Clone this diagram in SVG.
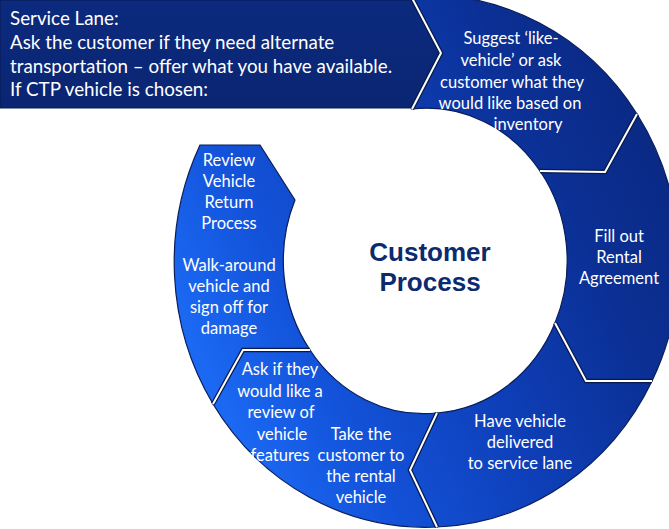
<svg xmlns="http://www.w3.org/2000/svg" width="669" height="529" viewBox="0 0 669 529">
<defs>
<linearGradient id="ring" gradientUnits="userSpaceOnUse" x1="650" y1="120" x2="190" y2="330">
<stop offset="0" stop-color="#0a2984"/>
<stop offset="0.2" stop-color="#0b2f93"/>
<stop offset="0.5" stop-color="#0e3fb8"/>
<stop offset="0.8" stop-color="#1353da"/>
<stop offset="1" stop-color="#1b68f2"/>
</linearGradient>
<linearGradient id="banner" x1="0" y1="0" x2="0" y2="1">
<stop offset="0" stop-color="#0c2a7e"/>
<stop offset="1" stop-color="#0a2572"/>
</linearGradient>
</defs>
<style>
.seg{fill:url(#ring);stroke:#081d5a;stroke-width:1.2}
.sepd{fill:none;stroke:#071a50;stroke-width:4.5;stroke-linejoin:miter}
.sepw{fill:none;stroke:#ffffff;stroke-width:2;stroke-linejoin:miter}
.t{font-family:Lato,"Liberation Sans",sans-serif;fill:#ffffff;font-size:16.5px;text-anchor:middle}
.b{font-family:Lato,"Liberation Sans",sans-serif;fill:#ffffff;font-size:18.8px}
.title{font-family:"Liberation Sans",Arial,sans-serif;font-weight:bold;fill:#0c2a6e;font-size:26px;text-anchor:middle}
</style>
<rect width="669" height="529" fill="#ffffff"/>

<g id="suggest">
<path class="seg" d="M412,0 L441,53 L412,109 A140,152 0 0 1 540,171 L605,172 L637,114 A252,266 0 0 0 412,-4.5 Z"/>
<text class="t" x="511" y="44">Suggest ‘like-</text>
<text class="t" x="511" y="66">vehicle’ or ask</text>
<text class="t" x="512" y="88">customer what they</text>
<text class="t" x="510" y="109">would like based on</text>
<text class="t" x="528" y="130">inventory</text>
</g>

<g id="fill-out">
<path class="seg" d="M540,171 L605,172 L637,114 A252,266 0 0 1 652,381 L586,381 L555,323 A140,152 0 0 0 540,171 Z"/>
<text class="t" x="619" y="242">Fill out</text>
<text class="t" x="619" y="263">Rental</text>
<text class="t" x="619" y="284">Agreement</text>
</g>

<g id="have-vehicle">
<path class="seg" d="M652,381 A252,266 0 0 1 437,527 L410,470 L437,413 A140,152 0 0 0 555,323 L586,381 Z"/>
<text class="t" x="520" y="427">Have vehicle</text>
<text class="t" x="520" y="448">delivered</text>
<text class="t" x="520" y="469">to service lane</text>
</g>

<g id="take-customer">
<path class="seg" d="M437,527 A252,266 0 0 1 213,404 L243,350 L310,350 A140,152 0 0 0 437,413 L410,470 Z"/>
<text class="t" x="280" y="375">Ask if they</text>
<text class="t" x="280" y="397">would like a</text>
<text class="t" x="281" y="418">review of</text>
<text class="t" x="282" y="440">vehicle</text>
<text class="t" x="280" y="461">features</text>
<text class="t" x="361" y="440">Take the</text>
<text class="t" x="361" y="461">customer to</text>
<text class="t" x="361" y="482">the rental</text>
<text class="t" x="361" y="503">vehicle</text>
</g>

<g id="walk-around">
<path class="seg" d="M213,404 A252,266 0 0 1 200,145 L260,145 L295,200 A140,152 0 0 0 310,350 L243,350 Z"/>
<text class="t" x="229" y="166">Review</text>
<text class="t" x="229" y="187">Vehicle</text>
<text class="t" x="229" y="208">Return</text>
<text class="t" x="229" y="229">Process</text>
<text class="t" x="229" y="271">Walk-around</text>
<text class="t" x="229" y="292">vehicle  and</text>
<text class="t" x="229" y="313">sign off for</text>
<text class="t" x="229" y="334">damage</text>
</g>

<g id="separators">
<polyline class="sepd" points="540,171 605,172 637,114"/>
<polyline class="sepd" points="555,323 586,381 652,381"/>
<polyline class="sepd" points="437,413 410,470 437,527"/>
<polyline class="sepd" points="213,404 243,350 310,350"/>
<polyline class="sepw" points="540,171 605,172 637,114"/>
<polyline class="sepw" points="555,323 586,381 652,381"/>
<polyline class="sepw" points="437,413 410,470 437,527"/>
<polyline class="sepw" points="213,404 243,350 310,350"/>
</g>

<g id="service-lane">
<path d="M0,0 H412 L441,53 L412,108 H0 Z" fill="url(#banner)" stroke="#071a50" stroke-width="1"/>
<polyline class="sepd" points="412,-2 441,53 412,109"/>
<polyline class="sepw" points="412,-2 441,53 412,109"/>
<text class="b" x="10" y="25">Service Lane:</text>
<text class="b" x="10" y="49">Ask the customer if they need alternate</text>
<text class="b" x="10" y="73">transportation – offer what you have available.</text>
<text class="b" x="10" y="96">If CTP vehicle is chosen:</text>
</g>

<g id="title">
<text class="title" x="430" y="261">Customer</text>
<text class="title" x="430" y="291">Process</text>
</g>
</svg>
